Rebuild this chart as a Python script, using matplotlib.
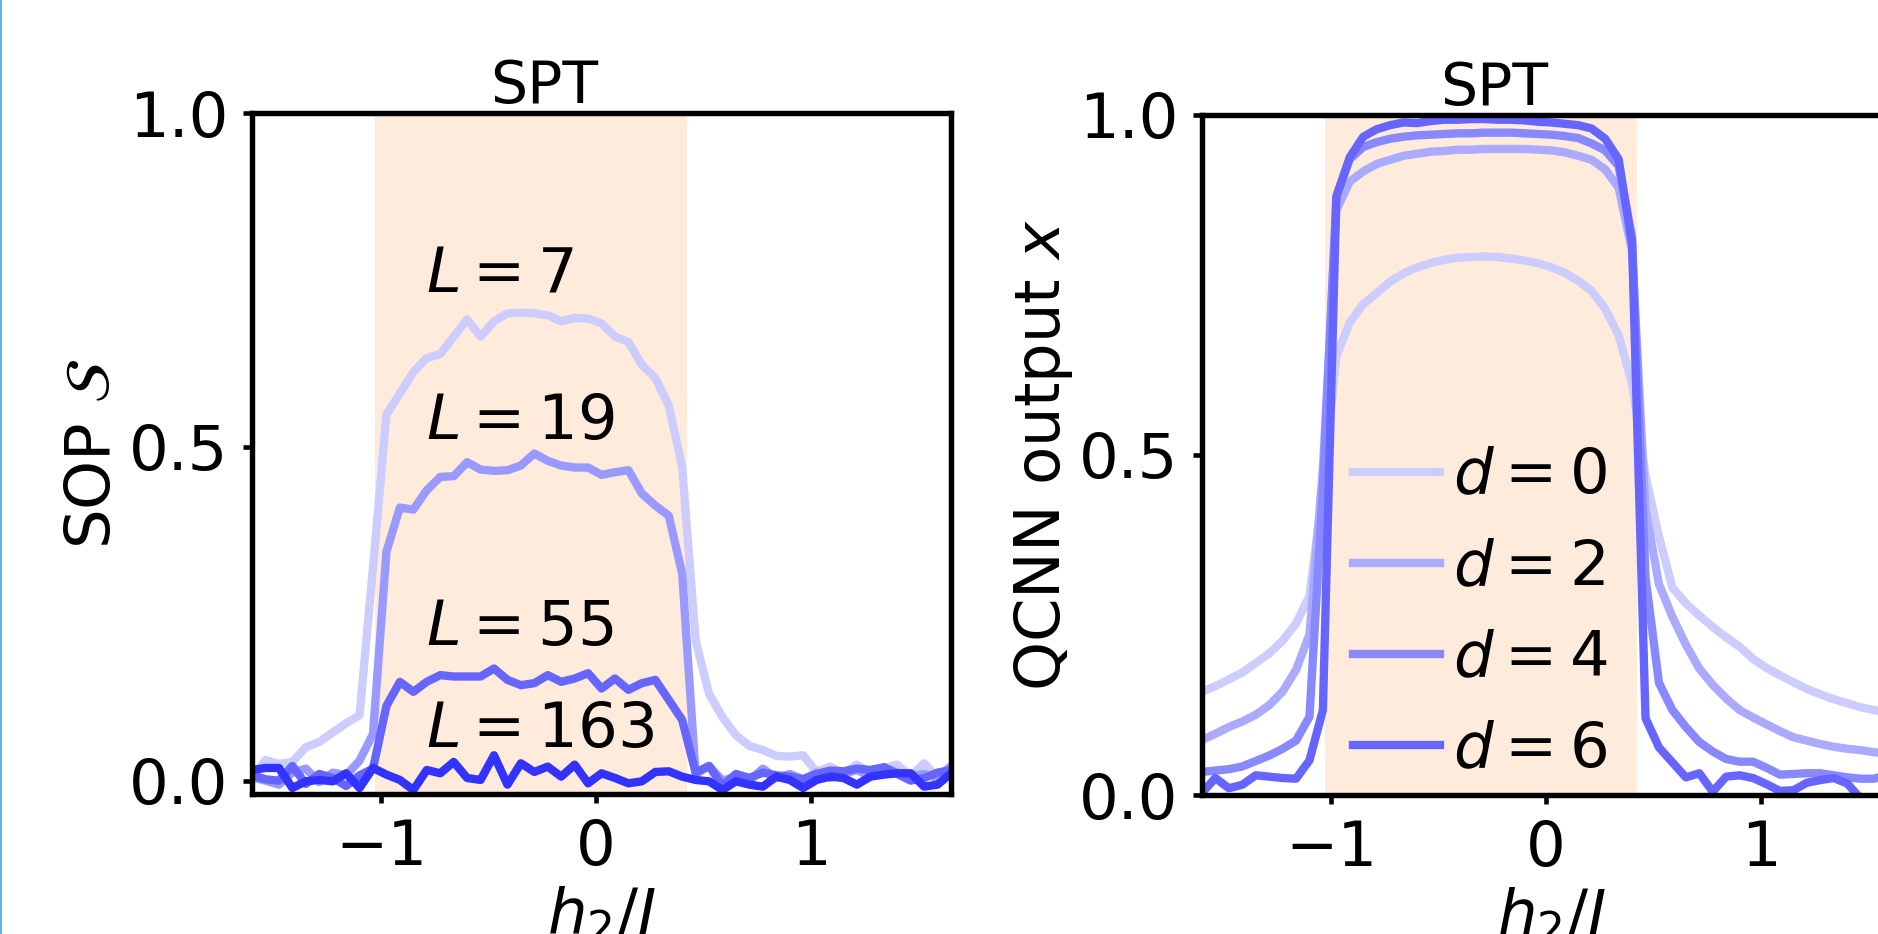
import numpy as np
import matplotlib
matplotlib.use('Agg')
import matplotlib.pyplot as plt
import matplotlib.transforms as mtransforms
from matplotlib.lines import Line2D

# h2/J grid shared by both panels
h2 = np.linspace(-1.6, 1.65, 53)

# left panel: SOP for different system sizes
sop_labels = ['$L = 7$', '$L = 19$', '$L = 55$', '$L = 163$']
sop_L7 = [0.000, 0.031, 0.025, 0.028, 0.050, 0.058, 0.072, 0.086, 0.098, 0.320,
          0.548, 0.580, 0.612, 0.633, 0.639, 0.665, 0.691, 0.665, 0.688, 0.700,
          0.701, 0.700, 0.697, 0.688, 0.693, 0.692, 0.685, 0.665, 0.657, 0.623,
          0.603, 0.562, 0.470, 0.210, 0.130, 0.095, 0.068, 0.052, 0.046, 0.037,
          0.036, 0.038, 0.013, 0.021, 0.011, 0.024, 0.011, 0.019, 0.024, 0.006,
          0.026, 0.004, 0.019]
sop_L19 = [0.005, 0.000, -0.006, 0.012, 0.018, -0.002, 0.012, 0.008, 0.030, 0.070,
           0.343, 0.409, 0.406, 0.435, 0.455, 0.456, 0.477, 0.466, 0.464, 0.465,
           0.472, 0.490, 0.479, 0.472, 0.469, 0.469, 0.458, 0.462, 0.465, 0.430,
           0.412, 0.397, 0.310, 0.010, 0.022, 0.000, 0.006, 0.000, 0.018, 0.004,
           0.010, 0.002, 0.012, 0.004, 0.010, 0.016, 0.006, 0.020, 0.012, 0.006,
           0.010, 0.004, 0.022]
sop_L55 = [0.008, 0.002, 0.000, 0.022, -0.005, 0.010, 0.004, -0.008, 0.008, 0.018,
           0.112, 0.148, 0.133, 0.148, 0.158, 0.156, 0.156, 0.156, 0.168, 0.151,
           0.143, 0.146, 0.158, 0.148, 0.153, 0.161, 0.138, 0.153, 0.136, 0.146,
           0.151, 0.121, 0.091, 0.012, 0.022, -0.008, 0.010, 0.004, 0.012, 0.008,
           0.006, 0.002, 0.010, 0.015, 0.014, 0.018, 0.016, 0.020, 0.010, 0.000,
           0.004, 0.012, 0.016]
sop_L163 = [0.016, 0.019, 0.019, -0.011, -0.001, 0.001, -0.001, 0.011, -0.011, 0.019,
            0.009, 0.001, -0.014, 0.016, 0.011, 0.028, 0.004, 0.001, 0.038, -0.006,
            0.026, 0.013, 0.021, 0.006, 0.024, -0.004, 0.011, 0.004, -0.004, -0.001,
            0.013, 0.014, 0.006, 0.001, -0.001, -0.014, -0.001, -0.006, -0.009, 0.006,
            0.001, -0.011, 0.001, 0.006, 0.004, -0.006, 0.006, 0.009, 0.011, 0.011,
            -0.009, -0.006, 0.011]
sop_text_x = [-0.79, -0.79, -0.79, -0.79]
sop_text_y = [0.732, 0.511, 0.203, 0.051]

# right panel: QCNN output for different depths
qcnn_labels = ['$d = 0$', '$d = 2$', '$d = 4$', '$d = 6$']
qcnn_d0 = [0.152, 0.160, 0.170, 0.180, 0.194, 0.208, 0.227, 0.252, 0.293, 0.450,
           0.645, 0.695, 0.722, 0.738, 0.755, 0.767, 0.776, 0.782, 0.787, 0.790,
           0.791, 0.792, 0.791, 0.789, 0.786, 0.782, 0.776, 0.768, 0.756, 0.741,
           0.715, 0.676, 0.605, 0.470, 0.380, 0.305, 0.282, 0.264, 0.247, 0.232,
           0.218, 0.200, 0.187, 0.176, 0.166, 0.156, 0.148, 0.141, 0.135, 0.129,
           0.125, 0.120, 0.116]
qcnn_d2 = [0.081, 0.090, 0.100, 0.108, 0.118, 0.132, 0.152, 0.184, 0.236, 0.480,
           0.860, 0.902, 0.917, 0.928, 0.934, 0.940, 0.943, 0.946, 0.947, 0.949,
           0.949, 0.950, 0.950, 0.950, 0.950, 0.949, 0.948, 0.945, 0.940, 0.934,
           0.920, 0.893, 0.800, 0.420, 0.310, 0.262, 0.221, 0.186, 0.162, 0.142,
           0.125, 0.114, 0.104, 0.094, 0.085, 0.080, 0.075, 0.071, 0.068, 0.066,
           0.063, 0.060, 0.058]
qcnn_d4 = [0.034, 0.036, 0.038, 0.042, 0.050, 0.058, 0.068, 0.080, 0.115, 0.450,
           0.880, 0.935, 0.953, 0.960, 0.965, 0.968, 0.970, 0.971, 0.972, 0.973,
           0.973, 0.974, 0.974, 0.974, 0.973, 0.972, 0.971, 0.969, 0.966, 0.958,
           0.948, 0.925, 0.820, 0.320, 0.165, 0.125, 0.100, 0.078, 0.064, 0.053,
           0.049, 0.049, 0.040, 0.030, 0.031, 0.032, 0.032, 0.029, 0.026, 0.024,
           0.024, 0.030, 0.027]
qcnn_d6 = [0.003, 0.025, 0.010, 0.015, 0.029, 0.027, 0.025, 0.024, 0.051, 0.125,
           0.880, 0.938, 0.968, 0.979, 0.985, 0.989, 0.988, 0.991, 0.993, 0.993,
           0.994, 0.994, 0.993, 0.993, 0.992, 0.990, 0.989, 0.987, 0.985, 0.980,
           0.965, 0.935, 0.810, 0.113, 0.070, 0.048, 0.026, 0.032, 0.005, 0.027,
           0.029, 0.025, 0.016, 0.006, 0.007, 0.018, 0.022, 0.025, 0.017, -0.005,
           -0.020, -0.020, -0.020]

# SPT phase region
spt_region = (-1.03, 0.424)
title_x = -0.24

sop_colors = ['#ccccff', '#9999ff', '#6666ff', '#3333ff']
qcnn_colors = ['#ccccff', '#aaaaff', '#8888ff', '#6666ff']

FS = 15
plt.rcParams['font.size'] = FS
plt.rcParams['axes.linewidth'] = 1.3
plt.rcParams['mathtext.fontset'] = 'dejavusans'

fig = plt.figure(figsize=(1878 / 300, 934 / 300), dpi=300)
ax1 = fig.add_axes([0.1342, 0.1499, 0.3722, 0.7291])
ax2 = fig.add_axes([0.6400, 0.1488, 0.3722, 0.7281])


def style_axes(ax, ylim, ylabel, pad):
    ax.axvspan(spt_region[0], spt_region[1], color='C1', alpha=0.15, lw=0, zorder=0)
    ax.set_xlim(-1.6, 1.65)
    ax.set_ylim(*ylim)
    ax.set_xticks([-1, 0, 1])
    ax.set_yticks([0.0, 0.5, 1.0])
    ax.set_yticklabels(['0.0', '0.5', '1.0'])
    ax.tick_params(length=2.2, width=1.1, pad=3.5)
    ax.set_xlabel('$h_2/J$', labelpad=1.5)
    ax.set_ylabel(ylabel, labelpad=pad)
    # title sits over the SPT region rather than the axes centre
    offset = mtransforms.ScaledTranslation(0, 2.5 / 72, fig.dpi_scale_trans)
    ax.text(title_x, 1.0, 'SPT', transform=ax.get_xaxis_transform() + offset,
            ha='center', va='baseline', fontsize=14)


sop = [sop_L7, sop_L19, sop_L55, sop_L163]
for i, s in enumerate(sop):
    ax1.plot(h2, s, '-', color=sop_colors[i], lw=2.0)
    ax1.text(sop_text_x[i], sop_text_y[i], sop_labels[i], ha='left', va='baseline')
style_axes(ax1, (-0.02, 1.0), r'SOP $\mathcal{S}$', 1.5)

qcnn = [qcnn_d0, qcnn_d2, qcnn_d4, qcnn_d6]
lines = []
for i, q in enumerate(qcnn):
    l, = ax2.plot(h2, q, '-', color=qcnn_colors[i], lw=2.0)
    lines.append(l)
style_axes(ax2, (0.0, 1.0), 'QCNN output $x$', 0.8)
ax2.legend(lines, qcnn_labels, loc='center left', bbox_to_anchor=(0.171, 0.267),
           frameon=False, borderpad=0, handlelength=1.4, handletextpad=0.2,
           labelspacing=0.5)

# thin blue border line on the left edge
fig.add_artist(Line2D([0.0005, 0.0005], [0, 1], color='#62b0e0', lw=0.5,
                      transform=fig.transFigure))

plt.savefig('out.png', dpi=300)
plt.close()
